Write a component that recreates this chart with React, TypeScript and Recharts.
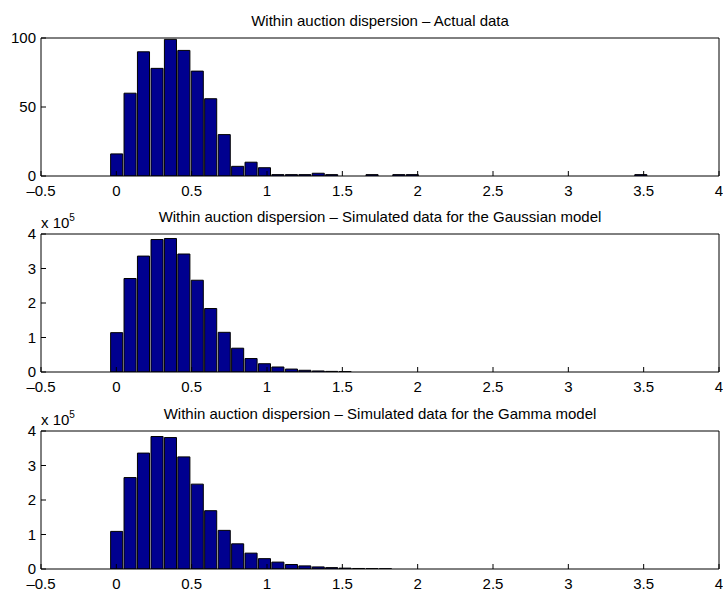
import React from 'react';
import { BarChart, Bar, XAxis, YAxis, Label } from 'recharts';

// histogram bin centres (same 40 bins in all three panels)
const binCenters = [
  0, 0.089, 0.178, 0.268, 0.357, 0.446, 0.535, 0.624, 0.714, 0.803,
  0.892, 0.981, 1.07, 1.16, 1.249, 1.338, 1.427, 1.516, 1.606, 1.695,
  1.784, 1.873, 1.962, 2.052, 2.141, 2.23, 2.319, 2.408, 2.498, 2.587,
  2.676, 2.765, 2.854, 2.944, 3.033, 3.122, 3.211, 3.3, 3.39, 3.479,
];

const actualCounts = [
  16, 60, 90, 78, 99, 91, 76, 56, 30, 7,
  10, 6, 1, 1, 1, 2, 1, 0, 0, 1,
  0, 1, 1, 0, 0, 0, 0, 0, 0, 0,
  0, 0, 0, 0, 0, 0, 0, 0, 0, 1,
];

const gaussianCounts = [
  114000, 271000, 336000, 384000, 387000, 342000, 266000, 184000, 115000, 69000,
  39000, 24000, 14500, 8500, 5000, 3000, 1800, 1000, 0, 0,
  0, 0, 0, 0, 0, 0, 0, 0, 0, 0,
  0, 0, 0, 0, 0, 0, 0, 0, 0, 0,
];

const gammaCounts = [
  109000, 265000, 336000, 384000, 381000, 325000, 246000, 169000, 112000, 73000,
  46000, 30000, 20000, 13000, 9000, 6000, 4000, 2500, 1500, 1000,
  700, 0, 0, 0, 0, 0, 0, 0, 0, 0,
  0, 0, 0, 0, 0, 0, 0, 0, 0, 0,
];

const xTicks = [-0.5, 0, 0.5, 1, 1.5, 2, 2.5, 3, 3.5, 4];
const actualYTicks = [0, 50, 100];
const simYTicks = [0, 100000, 200000, 300000, 400000];

const FONT = '"Liberation Sans", Arial, Helvetica, sans-serif';
const BAR_FILL = '#00008f';

const fmtX = (v: number) => (v < 0 ? '\u2013' + Math.abs(v) : String(v));

interface PanelProps {
  title: string;
  counts: number[];
  yTicks: number[];
  yMax: number;
  scaled?: boolean;
}

function Panel({ title, counts, yTicks, yMax, scaled }: PanelProps) {
  const data = binCenters.map((x, i) => ({ x, v: counts[i] }));
  const tickStyle = { fontSize: 15, fill: '#000', fontFamily: FONT };

  // svg is taller than the 196px slot so the tick labels are not clipped;
  // the panels overlap transparently
  return (
    <BarChart
      width={723}
      height={210}
      data={data}
      margin={{ top: 37, right: 3, bottom: 14, left: 0 }}
      barGap={0}
      barCategoryGap={0}
    >
      <XAxis
        dataKey="x"
        type="number"
        domain={[-0.5, 4]}
        ticks={xTicks}
        interval={0}
        allowDataOverflow
        height={20}
        tickSize={-5}
        tickMargin={14}
        tick={tickStyle}
        tickFormatter={fmtX}
        stroke="#000"
      />
      <XAxis
        xAxisId="top"
        orientation="top"
        type="number"
        domain={[-0.5, 4]}
        ticks={xTicks}
        interval={0}
        allowDataOverflow
        height={1}
        tickSize={-5}
        tick={false}
        stroke="#000"
      >
        <Label
          value={title}
          position="top"
          offset={11}
          style={{ fontSize: 15, fill: '#000', fontFamily: FONT }}
        />
      </XAxis>
      <YAxis
        type="number"
        domain={[0, yMax]}
        ticks={yTicks}
        interval={0}
        allowDataOverflow
        width={41}
        tickSize={-5}
        tickMargin={10}
        tick={tickStyle}
        tickFormatter={(v: number) => (scaled ? String(v / 100000) : String(v))}
        stroke="#000"
      >
        {scaled && (
          <Label
            content={() => (
              <text x={41} y={32} fontSize={15} fontFamily={FONT} fill="#000">
                x 10
                <tspan dy={-7} fontSize={10}>5</tspan>
              </text>
            )}
          />
        )}
      </YAxis>
      <YAxis
        yAxisId="right"
        orientation="right"
        type="number"
        domain={[0, yMax]}
        ticks={yTicks}
        interval={0}
        width={1}
        tickSize={-5}
        tick={false}
        stroke="#000"
      />
      <Bar
        dataKey="v"
        fill={BAR_FILL}
        stroke="#000"
        strokeWidth={1}
        barSize={13.43}
        isAnimationActive={false}
      />
    </BarChart>
  );
}

export default function App() {
  return (
    <div style={{ position: 'relative', width: 723, height: 590, background: '#fff', overflow: 'hidden' }}>
      <style>{'body{margin:0}'}</style>
      <div style={{ position: 'absolute', top: 0, left: 0 }}>
        <Panel
          title="Within auction dispersion – Actual data"
          counts={actualCounts}
          yTicks={actualYTicks}
          yMax={100}
        />
      </div>
      <div style={{ position: 'absolute', top: 196, left: 0 }}>
        <Panel
          title="Within auction dispersion – Simulated data for the Gaussian model"
          counts={gaussianCounts}
          yTicks={simYTicks}
          yMax={400000}
          scaled
        />
      </div>
      <div style={{ position: 'absolute', top: 393, left: 0 }}>
        <Panel
          title="Within auction dispersion – Simulated data for the Gamma model"
          counts={gammaCounts}
          yTicks={simYTicks}
          yMax={400000}
          scaled
        />
      </div>
    </div>
  );
}
